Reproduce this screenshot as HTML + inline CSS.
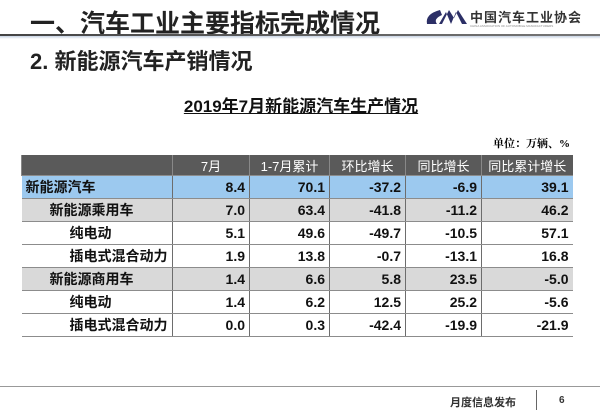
<!DOCTYPE html>
<html><head><meta charset="utf-8">
<style>
body{margin:0;width:600px;height:415px;background:#fff;position:relative;overflow:hidden;font-family:"Liberation Sans","Noto Sans CJK SC",sans-serif;}
.abs{position:absolute;}
table{border-collapse:collapse;position:absolute;left:21px;top:155px;width:551px;table-layout:fixed;font-weight:bold;font-size:14px;}
td{height:22px;padding:0 4px;border-bottom:1.5px solid #8c8c8c;border-left:1.5px solid #6d6d6d;text-align:right;color:#111;white-space:nowrap;}
td:first-child{border-left:none;text-align:left;}
tr.h td{background:#5a5a5a;color:#fff;text-align:center;font-weight:normal;font-size:13px;height:20px;border-left:1.5px solid #888;}
tr.b td{background:#9cc9ef;}
tr.g td{background:#d9d9d9;}
</style></head><body>
<div class="abs" style="left:30px;top:4px;font-size:25px;font-weight:bold;color:#222;">一、汽车工业主要指标完成情况</div>
<svg class="abs" style="left:424px;top:7px" width="44" height="22"><path d="M16 3 Q1 7 3 17 L13 17 Q9 12 18 8Z M15 17 L22 5 L27 17 L32 5 L38 17 L43 17 L34 3 L30 11 L25 3 L18 17Z" fill="#2c2f66"/></svg>
<div class="abs" style="left:470px;top:7px;font-size:13px;font-weight:bold;color:#333;letter-spacing:1px;">中国汽车工业协会</div>
<div class="abs" style="left:470px;top:24px;width:104px;font-size:3px;color:#888;white-space:nowrap;overflow:hidden;">CHINA ASSOCIATION OF AUTOMOBILE MANUFACTURERS</div>
<div class="abs" style="left:0;top:34px;width:600px;height:2px;background:linear-gradient(90deg,#444,#777);"></div>
<div class="abs" style="left:0;top:36px;width:600px;height:3px;background:linear-gradient(#c7d3e3,#fff);"></div>
<div class="abs" style="left:30px;top:44px;font-size:22px;font-weight:bold;color:#222;">2. 新能源汽车产销情况</div>
<div class="abs" style="left:170px;top:92px;width:262px;text-align:center;font-size:17px;font-weight:bold;text-decoration:underline;color:#111;">2019年7月新能源汽车生产情况</div>
<div class="abs" style="left:480px;top:135px;width:90px;text-align:right;font-size:11px;font-weight:bold;font-family:'Liberation Serif','Noto Serif CJK SC',serif;">单位：万辆、%</div>
<table>
<colgroup><col style="width:151px"><col style="width:77px"><col style="width:80px"><col style="width:76px"><col style="width:76px"><col style="width:91px"></colgroup>
<tr class="h"><td></td><td>7月</td><td>1-7月累计</td><td>环比增长</td><td>同比增长</td><td>同比累计增长</td></tr>
<tr class="b"><td>新能源汽车</td><td>8.4</td><td>70.1</td><td>-37.2</td><td>-6.9</td><td>39.1</td></tr>
<tr class="g"><td style="padding-left:28px">新能源乘用车</td><td>7.0</td><td>63.4</td><td>-41.8</td><td>-11.2</td><td>46.2</td></tr>
<tr><td style="padding-left:48px">纯电动</td><td>5.1</td><td>49.6</td><td>-49.7</td><td>-10.5</td><td>57.1</td></tr>
<tr><td style="padding-left:48px">插电式混合动力</td><td>1.9</td><td>13.8</td><td>-0.7</td><td>-13.1</td><td>16.8</td></tr>
<tr class="g"><td style="padding-left:28px">新能源商用车</td><td>1.4</td><td>6.6</td><td>5.8</td><td>23.5</td><td>-5.0</td></tr>
<tr><td style="padding-left:48px">纯电动</td><td>1.4</td><td>6.2</td><td>12.5</td><td>25.2</td><td>-5.6</td></tr>
<tr><td style="padding-left:48px">插电式混合动力</td><td>0.0</td><td>0.3</td><td>-42.4</td><td>-19.9</td><td>-21.9</td></tr>
</table>
<div class="abs" style="left:0;top:386px;width:600px;height:1px;background:#999;"></div>
<div class="abs" style="left:450px;top:394px;font-size:11px;font-weight:bold;color:#333;">月度信息发布</div>
<div class="abs" style="left:536px;top:390px;width:1px;height:20px;background:#666;"></div>
<div class="abs" style="left:559px;top:395px;font-size:10px;font-weight:bold;color:#333;">6</div>
</body></html>
